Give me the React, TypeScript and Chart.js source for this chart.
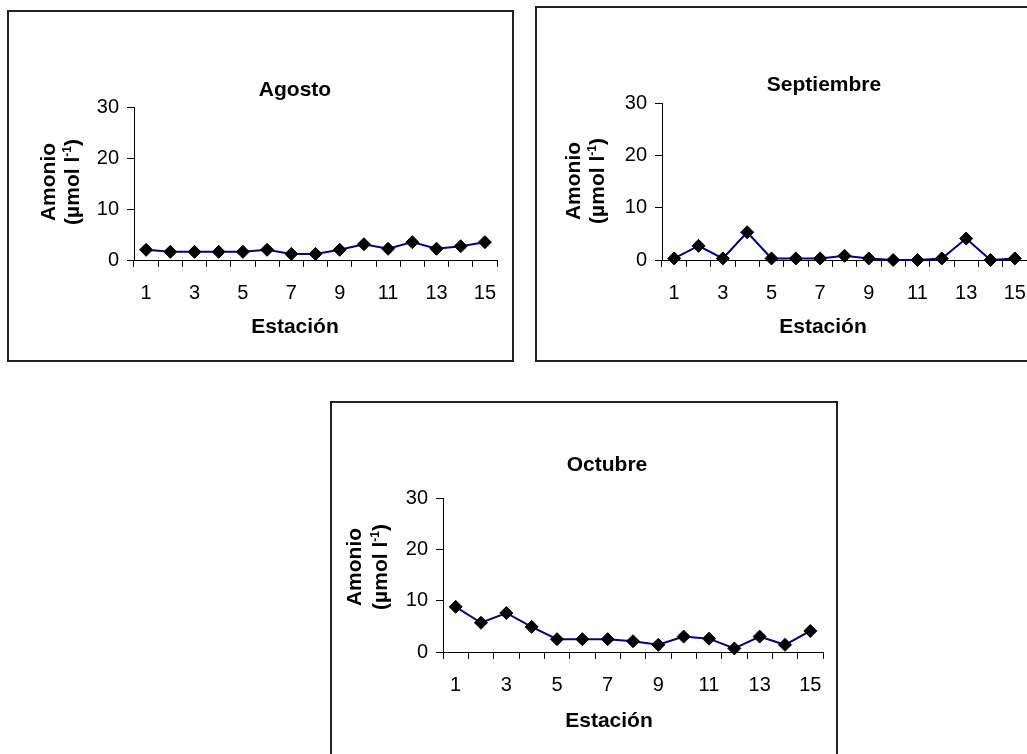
import React, { useEffect, useRef } from "react";
import { Chart, registerables } from "chart.js";

Chart.register(...registerables);

const stations = ["1", "2", "3", "4", "5", "6", "7", "8", "9", "10", "11", "12", "13", "14", "15"];
const agosto = [2.0, 1.6, 1.6, 1.6, 1.6, 2.0, 1.2, 1.2, 2.0, 3.1, 2.2, 3.5, 2.2, 2.7, 3.5];
const septiembre = [0.3, 2.7, 0.3, 5.3, 0.3, 0.3, 0.3, 0.8, 0.3, 0, 0, 0.3, 4.1, 0, 0.3];
const octubre = [8.8, 5.7, 7.6, 4.9, 2.5, 2.5, 2.5, 2.1, 1.4, 3.0, 2.6, 0.7, 3.0, 1.4, 4.1];
const yTicks = [0, 10, 20, 30];
const xTitle = "Estación";
const yTitleMain = "Amonio";
const yTitleUnit = "(µmol l";
const yTitleSup = "-1";
const yTitleEnd = ")";

const FONT = '"Liberation Sans", Arial, Helvetica, sans-serif';

type Panel = {
  title: string;
  values: number[];
  box: { left: number; top: number; width: number; height: number };
  plot: { left: number; top: number; right: number; bottom: number };
  titlePos: { x: number; y: number };
  xTitlePos: { x: number; y: number };
  yTitlePos: { x1: number; x2: number; y: number };
};

const panels: Panel[] = [
  {
    title: "Agosto",
    values: agosto,
    box: { left: 8, top: 11, width: 505, height: 350 },
    plot: { left: 126, top: 96, right: 16, bottom: 101 },
    titlePos: { x: 287, y: 85 },
    xTitlePos: { x: 287, y: 322 },
    yTitlePos: { x1: 47, x2: 71, y: 171 },
  },
  {
    title: "Septiembre",
    values: septiembre,
    box: { left: 536, top: 7, width: 509, height: 354 },
    plot: { left: 126, top: 96, right: 18, bottom: 101 },
    titlePos: { x: 288, y: 84 },
    xTitlePos: { x: 287, y: 326 },
    yTitlePos: { x1: 44, x2: 68, y: 174 },
  },
  {
    title: "Octubre",
    values: octubre,
    box: { left: 331, top: 402, width: 506, height: 368 },
    plot: { left: 112, top: 96, right: 14, bottom: 118 },
    titlePos: { x: 276, y: 69 },
    xTitlePos: { x: 278, y: 325 },
    yTitlePos: { x1: 30, x2: 56, y: 165 },
  },
];

function ChartPanel({ p }: { p: Panel }) {
  const ref = useRef<HTMLCanvasElement | null>(null);
  useEffect(() => {
    if (!ref.current) return;
    const textPlugin = {
      id: "panelText",
      afterDraw(chart: any) {
        const ctx = chart.ctx as CanvasRenderingContext2D;
        ctx.save();
        ctx.fillStyle = "#000";
        ctx.textBaseline = "alphabetic";
        ctx.textAlign = "center";
        ctx.font = `bold 21px ${FONT}`;
        ctx.fillText(p.title, p.titlePos.x, p.titlePos.y);
        ctx.fillText(xTitle, p.xTitlePos.x, p.xTitlePos.y);
        // rotated y title
        ctx.save();
        ctx.translate(p.yTitlePos.x1, p.yTitlePos.y);
        ctx.rotate(-Math.PI / 2);
        ctx.fillText(yTitleMain, 0, 0);
        ctx.restore();
        ctx.save();
        ctx.translate(p.yTitlePos.x2, p.yTitlePos.y);
        ctx.rotate(-Math.PI / 2);
        ctx.textAlign = "left";
        ctx.font = `bold 21px ${FONT}`;
        const w1 = ctx.measureText(yTitleUnit).width;
        const w3 = ctx.measureText(yTitleEnd).width;
        ctx.font = `bold 12px ${FONT}`;
        const w2 = ctx.measureText(yTitleSup).width;
        const start = -(w1 + w2 + w3) / 2;
        ctx.font = `bold 21px ${FONT}`;
        ctx.fillText(yTitleUnit, start, 0);
        ctx.font = `bold 12px ${FONT}`;
        ctx.fillText(yTitleSup, start + w1, -8);
        ctx.font = `bold 21px ${FONT}`;
        ctx.fillText(yTitleEnd, start + w1 + w2, 0);
        ctx.restore();
        ctx.restore();
      },
    };
    const chart = new Chart(ref.current, {
      type: "line",
      data: {
        labels: stations,
        datasets: [
          {
            data: p.values,
            borderColor: "#000080",
            borderWidth: 2,
            pointStyle: "rectRot",
            pointRadius: 6.5,
            pointBackgroundColor: "#000",
            pointBorderColor: "#000",
            pointBorderWidth: 1,
            tension: 0,
            clip: false as any,
          },
        ],
      },
      options: {
        animation: false,
        responsive: false,
        devicePixelRatio: 1,
        layout: { padding: { left: 0, top: p.plot.top, right: p.plot.right, bottom: 0 } },
        plugins: { legend: { display: false }, tooltip: { enabled: false }, title: { display: false } },
        scales: {
          x: {
            type: "category",
            offset: true,
            afterFit: (s: any) => {
              s.height = p.plot.bottom;
            },
            grid: { offset: true, drawOnChartArea: false, drawTicks: true, tickLength: 7, color: "#000", lineWidth: 1 },
            border: { display: true, color: "#000", width: 1 },
            ticks: {
              autoSkip: false,
              maxRotation: 0,
              minRotation: 0,
              padding: 14,
              color: "#000",
              font: { family: FONT, size: 20 },
              callback: (_v: any, i: number) => (i % 2 === 0 ? stations[i] : ""),
            },
          },
          y: {
            min: yTicks[0],
            max: yTicks[yTicks.length - 1],
            afterFit: (s: any) => {
              s.width = p.plot.left;
            },
            afterBuildTicks: (s: any) => {
              s.ticks = yTicks.map((v) => ({ value: v }));
            },
            grid: { drawOnChartArea: false, drawTicks: true, tickLength: 7, color: "#000", lineWidth: 1 },
            border: { display: true, color: "#000", width: 1 },
            ticks: { padding: 8, color: "#000", font: { family: FONT, size: 20 } },
          },
        },
      },
      plugins: [textPlugin],
    });
    return () => chart.destroy();
  }, [p]);
  return (
    <>
      <canvas
        ref={ref}
        width={p.box.width}
        height={p.box.height}
        style={{ position: "absolute", left: p.box.left, top: p.box.top, width: p.box.width, height: p.box.height }}
      />
      <div
        style={{
          position: "absolute",
          left: p.box.left - 1,
          top: p.box.top - 1,
          width: p.box.width + 2,
          height: p.box.height + 2,
          border: "2px solid #222",
          boxSizing: "border-box",
          pointerEvents: "none",
        }}
      />
    </>
  );
}

export default function App() {
  return (
    <div style={{ position: "fixed", left: 0, top: 0, width: 1027, height: 754, overflow: "hidden", background: "#fff" }}>
      {panels.map((p, i) => (
        <ChartPanel key={i} p={p} />
      ))}
    </div>
  );
}
